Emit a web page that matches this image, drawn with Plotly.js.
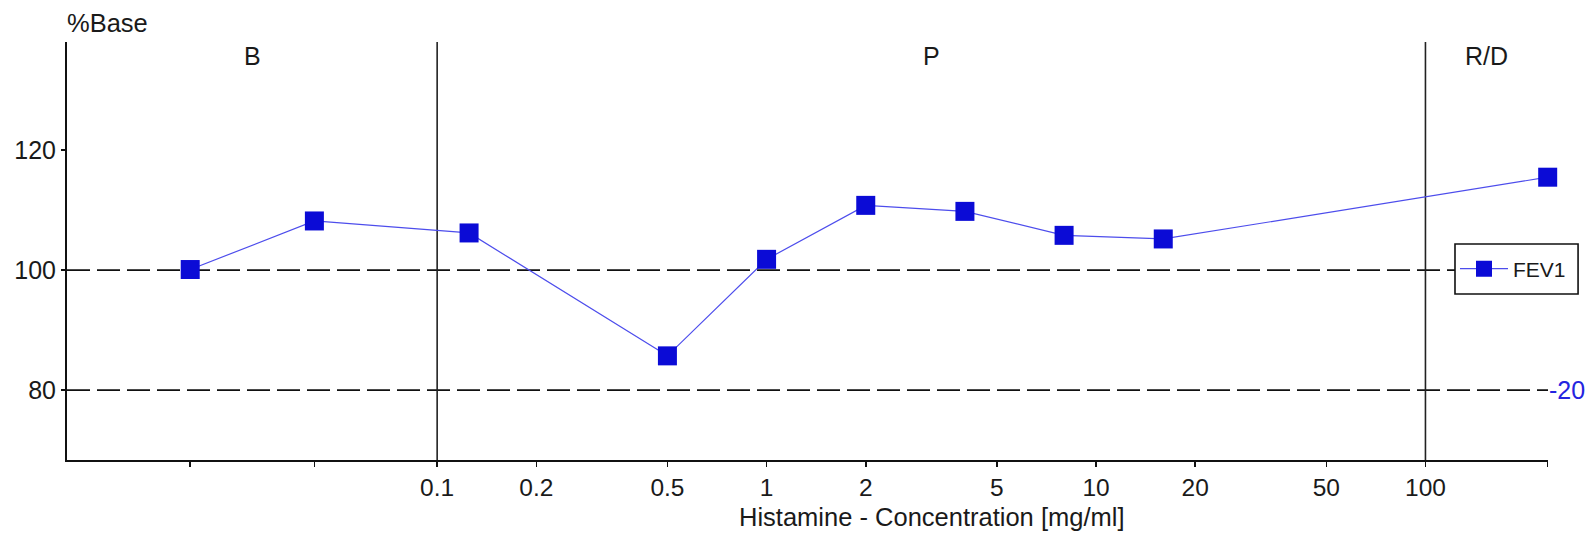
<!DOCTYPE html>
<html>
<head>
<meta charset="utf-8">
<script src="https://cdn.plot.ly/plotly-3.0.1.min.js"></script>
<style>html,body{margin:0;padding:0;background:#fff;}#chart{width:1588px;height:534px;}</style>
</head>
<body>
<div id="chart"></div>
<script>
// Data
const concentrations = [0.0178, 0.0424, 0.125, 0.5, 1, 2, 4, 8, 16, 235]; // mg/ml (first two = baseline slots)
const fev1 = [100.1, 108.2, 106.2, 85.7, 101.8, 110.8, 109.8, 105.8, 105.2, 115.5]; // %Base
const seriesName = 'FEV1';
const tickValues = [0.1, 0.2, 0.5, 1, 2, 5, 10, 20, 50, 100];
const tickLabels = ['0.1', '0.2', '0.5', '1', '2', '5', '10', '20', '50', '100'];
const yTickValues = [80, 100, 120];
const referenceLevels = [100, 80];
const phaseNames = ['B', 'P', 'R/D'];
const phaseDividers = [0.1, 100];
const rightTickValues = [-20];
const rightTickLabels = ['-20'];
const xTitle = 'Histamine - Concentration [mg/ml]';
const yTitle = '%Base';

const xRange = [-2.1236, 2.372];
const yRange = [68.33, 138.05];
const FONT = '"Liberation Sans", Arial, sans-serif';
const TEXT = '#1a1a1a';

// ticks: unlabeled marks at baseline slots and at the last point
const allTickVals = concentrations.slice(0, 2).concat(tickValues, concentrations.slice(-1));
const allTickText = ['', ''].concat(tickLabels, ['']);

const shapes = [];
referenceLevels.forEach(v => shapes.push({
  type: 'line', xref: 'paper', yref: 'y', x0: 0, x1: 1, y0: v, y1: v,
  line: {color: '#111', width: 1.8, dash: '23px,7px'}, layer: 'below'
}));
phaseDividers.forEach(v => shapes.push({
  type: 'line', xref: 'x', yref: 'paper', x0: v, x1: v, y0: 0, y1: 1,
  line: {color: '#222', width: 1.6}, layer: 'below'
}));
// legend frame (white box with black border, legend drawn on top of it)
shapes.push({
  type: 'rect', xref: 'paper', yref: 'paper', x0: 0.9372, x1: 1.0203, y0: 0.397, y1: 0.5167,
  line: {color: '#111', width: 1.6}, fillcolor: '#fff', layer: 'above'
});

// phase labels centred in each section (log space)
const bounds = [xRange[0]].concat(phaseDividers.map(v => Math.log10(v)), [xRange[1]]);
const annotations = phaseNames.map((name, i) => ({
  text: name, xref: 'x', yref: 'paper', x: (bounds[i] + bounds[i + 1]) / 2, y: 0.966,
  xanchor: 'center', yanchor: 'middle', showarrow: false,
  font: {family: FONT, size: 25, color: TEXT}
}));
// x-axis title (in the reference it is centred over the provocation section)
annotations.push({
  text: xTitle, xref: 'x', yref: 'paper', x: (bounds[1] + bounds[2]) / 2, y: -0.1364,
  xanchor: 'center', yanchor: 'middle', showarrow: false,
  font: {family: FONT, size: 25.5, color: TEXT}
});

const traces = [
  {
    type: 'scatter', mode: 'lines+markers', name: seriesName,
    x: concentrations, y: fev1, cliponaxis: false,
    line: {color: '#4d4dec', width: 1.2},
    marker: {symbol: 'square', size: 19, color: '#0b0bd6'}
  },
  {
    type: 'scatter', mode: 'markers', x: [], y: [], yaxis: 'y2', showlegend: false, hoverinfo: 'skip'
  }
];

const layout = {
  width: 1588, height: 534,
  margin: {l: 67, r: 40, t: 42, b: 74},
  paper_bgcolor: '#fff', plot_bgcolor: '#fff',
  font: {family: FONT, size: 24, color: TEXT},
  showlegend: true,
  title: {
    text: yTitle, x: 67 / 1588, xanchor: 'left', xref: 'container',
    y: 1 - 22.7 / 534, yanchor: 'middle', yref: 'container',
    font: {family: FONT, size: 25.5, color: TEXT}
  },
  xaxis: {
    type: 'log', range: xRange, autorange: false,
    tickmode: 'array', tickvals: allTickVals, ticktext: allTickText,
    ticks: 'outside', ticklen: 5, tickwidth: 1.5, tickcolor: '#111',
    showline: true, linecolor: '#111', linewidth: 2,
    showgrid: false, zeroline: false,
    tickfont: {family: FONT, size: 24.5, color: TEXT},
    automargin: false
  },
  yaxis: {
    range: yRange, autorange: false,
    tickmode: 'array', tickvals: yTickValues,
    ticks: 'outside', ticklen: 4, tickwidth: 1.5, tickcolor: '#111',
    showline: true, linecolor: '#111', linewidth: 2,
    showgrid: false, zeroline: false,
    tickfont: {family: FONT, size: 25, color: TEXT},
    automargin: false
  },
  yaxis2: {
    overlaying: 'y', side: 'right',
    range: [yRange[0] - 100, yRange[1] - 100], autorange: false,
    tickmode: 'array', tickvals: rightTickValues, ticktext: rightTickLabels,
    ticks: '', showline: false, showgrid: false, zeroline: false,
    tickfont: {family: FONT, size: 25, color: '#2424e0'},
    automargin: false
  },
  legend: {
    x: (1455 - 67) / 1481, xanchor: 'left', y: (460 - 269) / 418, yanchor: 'middle',
    bgcolor: 'rgba(0,0,0,0)', borderwidth: 0,
    itemwidth: 48,
    font: {family: FONT, size: 21, color: TEXT}
  },
  shapes: shapes,
  annotations: annotations
};

Plotly.newPlot('chart', traces, layout, {displayModeBar: false, staticPlot: true});
</script>
</body>
</html>
